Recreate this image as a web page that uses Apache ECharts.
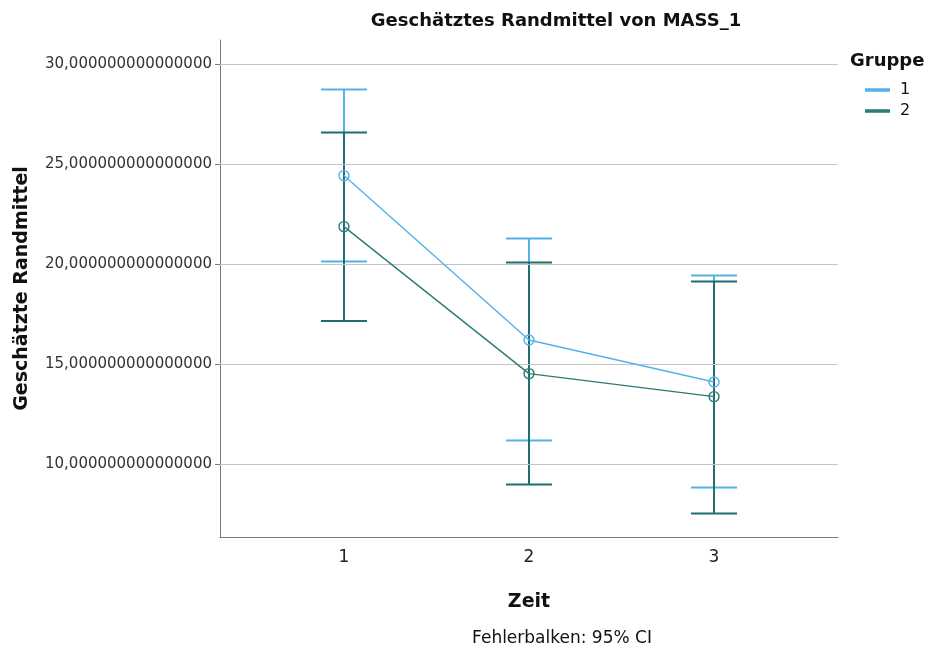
<!DOCTYPE html>
<html>
<head>
<meta charset="utf-8">
<script src="https://cdn.jsdelivr.net/npm/echarts@6/dist/echarts.min.js"></script>
<style>
  html, body { margin: 0; padding: 0; background: #fff; }
  #chart { width: 928px; height: 647px; }
</style>
</head>
<body>
<div id="chart"></div>
<script>
// Time points (x) and group series: estimated marginal means with 95% CI bounds
const zeit = [1, 2, 3];
const gruppen = ['1', '2'];

const g1Mean = [24.42, 16.20, 14.10];
const g1Low  = [20.12, 11.17, 8.82];
const g1High = [28.73, 21.28, 19.42];

const g2Mean = [21.87, 14.52, 13.37];
const g2Low  = [17.15, 8.98, 7.53];
const g2High = [26.58, 20.07, 19.12];

const yTicks = [10, 15, 20, 25, 30];

const blue = '#52b2ea';
const green = '#2b7b77';
const greenBar = '#1f6e6f';
const FONT = 'DejaVu Sans';

function fmtY(v) {
  return v.toFixed(15).replace('.', ',');
}

function errorBarSeries(name, low, high, color, z) {
  return {
    type: 'custom',
    name: name + ' CI',
    z: z,
    silent: true,
    encode: { x: 0, y: [1, 2] },
    data: zeit.map((x, i) => [x, low[i], high[i]]),
    renderItem: function (params, api) {
      const x = api.value(0);
      const pLo = api.coord([x, api.value(1)]);
      const pHi = api.coord([x, api.value(2)]);
      const half = 23;
      const style = { stroke: color, lineWidth: 2 };
      return {
        type: 'group',
        children: [
          { type: 'line', shape: { x1: pLo[0], y1: pLo[1], x2: pHi[0], y2: pHi[1] }, style: style },
          { type: 'line', shape: { x1: pLo[0] - half, y1: pLo[1], x2: pLo[0] + half, y2: pLo[1] }, style: style },
          { type: 'line', shape: { x1: pHi[0] - half, y1: pHi[1], x2: pHi[0] + half, y2: pHi[1] }, style: style }
        ]
      };
    }
  };
}

function meanSeries(name, mean, color) {
  return {
    type: 'line',
    name: name,
    z: 5,
    data: zeit.map((x, i) => [x, mean[i]]),
    symbol: 'circle',
    symbolSize: 10,
    itemStyle: { color: 'rgba(0,0,0,0)', borderColor: color, borderWidth: 1.4 },
    lineStyle: { color: color, width: 1.4 },
    emphasis: { disabled: true }
  };
}

const chart = echarts.init(document.getElementById('chart'), null, { renderer: 'canvas' });

chart.setOption({
  animation: false,
  backgroundColor: '#ffffff',
  title: [
    {
      text: 'Geschätztes Randmittel von MASS_1',
      left: 551, top: 7, textAlign: 'center',
      textStyle: { fontFamily: FONT, fontWeight: 'bold', fontSize: 18, color: '#111' }
    },
    {
      text: 'Gruppe',
      left: 845, top: 47,
      textStyle: { fontFamily: FONT, fontWeight: 'bold', fontSize: 18, color: '#111' }
    },
    {
      text: 'Fehlerbalken: 95% CI',
      left: 557, top: 625, textAlign: 'center',
      textStyle: { fontFamily: FONT, fontWeight: 'normal', fontSize: 17, color: '#111' }
    }
  ],
  legend: {
    orient: 'vertical',
    left: 860, top: 77,
    padding: 5,
    itemWidth: 23, itemHeight: 1.5, itemGap: 5,
    icon: 'rect',
    selectedMode: false,
    textStyle: { fontFamily: FONT, fontSize: 16, color: '#111', padding: [0, 0, 0, 6] },
    data: [
      { name: gruppen[0], itemStyle: { color: blue } },
      { name: gruppen[1], itemStyle: { color: green } }
    ]
  },
  grid: { left: 220, right: 90, top: 40, bottom: 110, containLabel: false, outerBoundsMode: 'none' },
  xAxis: {
    type: 'value',
    min: 0.33, max: 3.67,
    name: 'Zeit',
    nameLocation: 'middle',
    nameGap: 56,
    nameTextStyle: { fontFamily: FONT, fontWeight: 'bold', fontSize: 19, color: '#111' },
    axisLine: { show: true, lineStyle: { color: '#7a7a7a', width: 1 } },
    axisTick: { show: false },
    splitLine: { show: false },
    axisLabel: {
      customValues: zeit,
      margin: 12,
      fontFamily: FONT, fontSize: 17, color: '#222'
    }
  },
  yAxis: {
    type: 'value',
    min: 6.35, max: 31.2,
    name: 'Geschätzte Randmittel',
    nameLocation: 'middle',
    nameGap: 188,
    nameRotate: 90,
    nameTextStyle: { fontFamily: FONT, fontWeight: 'bold', fontSize: 19, color: '#111' },
    axisLine: { show: true, lineStyle: { color: '#7a7a7a', width: 1 } },
    axisTick: { show: true, customValues: yTicks, length: 5, lineStyle: { color: '#7a7a7a' } },
    splitLine: { show: false },
    axisLabel: {
      customValues: yTicks,
      margin: 8,
      formatter: fmtY,
      fontFamily: FONT, fontSize: 15, color: '#333'
    }
  },
  series: [
    {
      type: 'line',
      name: 'grid',
      data: [],
      z: 0,
      silent: true,
      markLine: {
        silent: true,
        symbol: 'none',
        label: { show: false },
        lineStyle: { color: '#c4c4c4', width: 1, type: 'solid' },
        data: yTicks.map(v => ({ yAxis: v }))
      }
    },
    errorBarSeries(gruppen[0], g1Low, g1High, blue, 2),
    errorBarSeries(gruppen[1], g2Low, g2High, greenBar, 3),
    meanSeries(gruppen[0], g1Mean, blue),
    meanSeries(gruppen[1], g2Mean, green)
  ]
});
</script>
</body>
</html>
